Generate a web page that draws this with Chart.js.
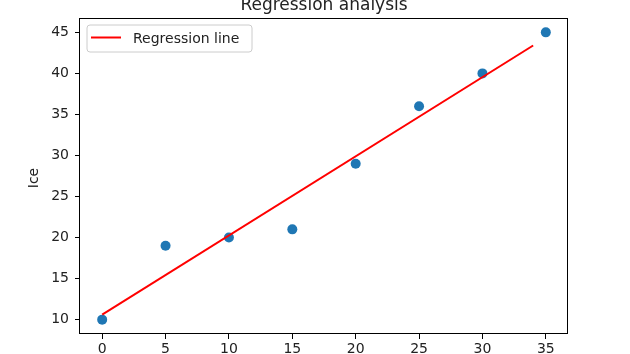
<!DOCTYPE html>
<html><head><meta charset="utf-8">
<script src="https://cdn.jsdelivr.net/npm/chart.js@4"></script>
<style>html,body{margin:0;padding:0;background:#fff;overflow:hidden}#wrap{width:630px;height:354px}</style>
</head><body><div id="wrap"><canvas id="c" width="630" height="354"></canvas></div>
<script>
const titleText = "Regression analysis";
const yAxisLabel = "Ice";
const lineLabel = "Regression line";
const xValues = [0, 5, 10, 15, 20, 25, 30, 35];
const yValues = [10, 19, 20, 21, 29, 36, 40, 45];
const lineX = [0, 34];
const lineY = [10.6, 43.4];
const xTicks = [0, 5, 10, 15, 20, 25, 30, 35];
const yTicks = [10, 15, 20, 25, 30, 35, 40, 45];

const FONT = "'DejaVu Sans', sans-serif";
const TXT = '#222';

const decor = {
  id: 'decor',
  afterDatasetsDraw(chart) {
    const ctx = chart.ctx, a = chart.chartArea;
    ctx.save();
    // frame
    ctx.strokeStyle = '#000';
    ctx.lineWidth = 1;
    ctx.strokeRect(Math.round(a.left) - 0.5, Math.round(a.top) + 0.5, Math.round(a.right - a.left), Math.round(a.bottom - a.top) - 1);
    // title
    ctx.fillStyle = TXT;
    ctx.font = "17px " + FONT;
    ctx.textAlign = 'center';
    ctx.textBaseline = 'alphabetic';
    ctx.fillText(titleText, (a.left + a.right) / 2, 10);
    // y label
    ctx.save();
    ctx.font = "14px " + FONT;
    ctx.translate(38, (a.top + a.bottom) / 2 + 2);
    ctx.rotate(-Math.PI / 2);
    ctx.textAlign = 'center';
    ctx.fillText(yAxisLabel, 0, 0);
    ctx.restore();
    // legend
    const lx = 87, ly = 25, lw = 165, lh = 27, r = 3;
    ctx.beginPath();
    ctx.moveTo(lx + r, ly);
    ctx.arcTo(lx + lw, ly, lx + lw, ly + lh, r);
    ctx.arcTo(lx + lw, ly + lh, lx, ly + lh, r);
    ctx.arcTo(lx, ly + lh, lx, ly, r);
    ctx.arcTo(lx, ly, lx + lw, ly, r);
    ctx.closePath();
    ctx.fillStyle = 'rgba(255,255,255,0.8)';
    ctx.fill();
    ctx.strokeStyle = '#cccccc';
    ctx.lineWidth = 1;
    ctx.stroke();
    const ds = chart.data.datasets[0];
    ctx.strokeStyle = ds.borderColor;
    ctx.lineWidth = 2;
    ctx.beginPath();
    ctx.moveTo(91, 37.5);
    ctx.lineTo(121, 37.5);
    ctx.stroke();
    ctx.fillStyle = TXT;
    ctx.font = "14px " + FONT;
    ctx.textAlign = 'left';
    ctx.fillText(ds.label, 133, 43);
    ctx.restore();
  }
};

const tickFont = { family: FONT, size: 14 };

new Chart(document.getElementById('c'), {
  type: 'scatter',
  data: {
    datasets: [
      {
        type: 'line',
        label: lineLabel,
        data: lineX.map((x, i) => ({ x: x, y: lineY[i] })),
        borderColor: '#ff0000',
        borderWidth: 2,
        pointRadius: 0,
        fill: false,
        order: 0
      },
      {
        type: 'scatter',
        label: 'data',
        data: xValues.map((x, i) => ({ x: x, y: yValues[i] })),
        backgroundColor: '#1f77b4',
        borderWidth: 0,
        pointRadius: 5,
        order: 1
      }
    ]
  },
  options: {
    responsive: false,
    animation: false,
    devicePixelRatio: 1,
    layout: { padding: { left: 0, right: 62, top: 18, bottom: 0 } },
    plugins: { legend: { display: false }, title: { display: false }, tooltip: { enabled: false } },
    scales: {
      x: {
        type: 'linear',
        min: -1.75, max: 36.75,
        afterBuildTicks: s => { s.ticks = xTicks.map(v => ({ value: v })); },
        afterFit: s => { s.height = 20; },
        grid: { drawOnChartArea: false, drawTicks: true, tickLength: 5, tickColor: '#000' },
        border: { display: false },
        ticks: { color: TXT, font: tickFont, padding: 2, maxRotation: 0, autoSkip: false }
      },
      y: {
        type: 'linear',
        min: 8.25, max: 46.75,
        afterBuildTicks: s => { s.ticks = yTicks.map(v => ({ value: v })); },
        afterFit: s => { s.width = 80; },
        grid: { drawOnChartArea: false, drawTicks: true, tickLength: 5, tickColor: '#000' },
        border: { display: false },
        ticks: { color: TXT, font: tickFont, padding: 6, autoSkip: false }
      }
    }
  },
  plugins: [decor]
});
</script>
</body></html>
